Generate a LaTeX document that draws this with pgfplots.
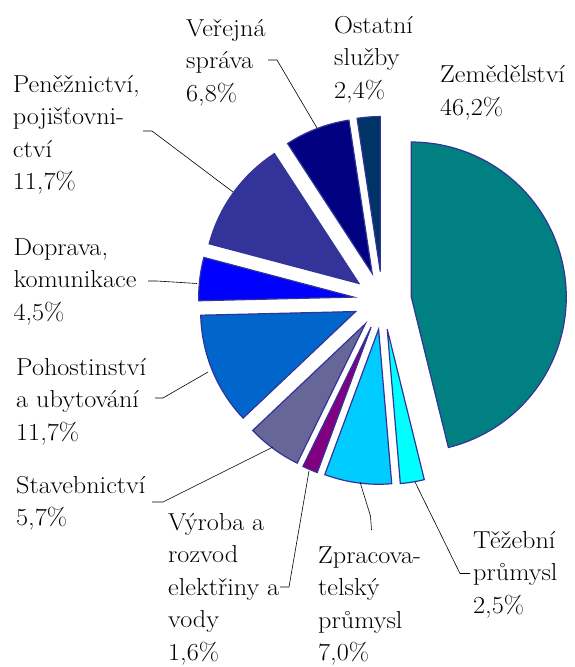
\documentclass[border=0pt]{standalone}
\usepackage{graphicx}
\usepackage{pgfplots}
\pgfplotsset{compat=1.18}
\usepackage{pgfplotstable}

\definecolor{c0}{HTML}{008080}
\definecolor{c1}{HTML}{00FFFF}
\definecolor{c2}{HTML}{00CCFF}
\definecolor{c3}{HTML}{800080}
\definecolor{c4}{HTML}{666699}
\definecolor{c5}{HTML}{0066CC}
\definecolor{c6}{HTML}{0000FF}
\definecolor{c7}{HTML}{333399}
\definecolor{c8}{HTML}{000080}
\definecolor{c9}{HTML}{003366}
\definecolor{edge}{HTML}{333399}

% shares in per cent, clockwise from the top
\pgfplotstableread{
idx pct
0 46.2
1 2.5
2 7.0
3 1.6
4 5.7
5 11.7
6 4.5
7 11.7
8 6.8
9 2.4
}\piedata

\def\cx{382.5}\def\cy{300.5}\def\R{155}\def\D{29}

\xdef\total{0}
\foreach \i in {0,...,9}{%
  \pgfplotstablegetelem{\i}{pct}\of\piedata
  \pgfmathsetmacro\tmp{\total+\pgfplotsretval}%
  \xdef\total{\tmp}%
}
\xdef\cum{0}
\foreach \i in {0,...,9}{%
  \pgfplotstablegetelem{\i}{pct}\of\piedata
  \pgfmathsetmacro\sa{90-(\cum/\total)*360}%
  \pgfmathsetmacro\nc{\cum+\pgfplotsretval}%
  \pgfmathsetmacro\ea{90-(\nc/\total)*360}%
  \pgfmathsetmacro\ma{(\sa+\ea)/2}%
  \pgfmathsetmacro\px{\cx+\D*cos(\ma)}%
  \pgfmathsetmacro\py{\cy-\D*sin(\ma)}%
  \expandafter\xdef\csname sA\i\endcsname{\sa}%
  \expandafter\xdef\csname eA\i\endcsname{\ea}%
  \expandafter\xdef\csname pX\i\endcsname{\px}%
  \expandafter\xdef\csname pY\i\endcsname{\py}%
  \xdef\cum{\nc}%
}

\newcommand\lab[3]{\node[anchor=base west, inner sep=0pt, font=\rmfamily\fontsize{24.5}{30}\selectfont] at (axis cs:#1,#2) {\scalebox{1.07}[1]{#3}};}

\begin{document}
\begin{tikzpicture}
\begin{axis}[
  scale only axis, width=574pt, height=667pt,
  xmin=0, xmax=574, ymin=0, ymax=667, y dir=reverse,
  enlargelimits=false, hide axis, clip=false]
\pgfplotsinvokeforeach{0,...,9}{
  \addplot[draw=edge, line width=1.2pt, fill=c#1, line join=miter,
    domain=\csname eA#1\endcsname:\csname sA#1\endcsname, samples=80]
    ({\csname pX#1\endcsname + \R*cos(x)}, {\csname pY#1\endcsname - \R*sin(x)})
    -- (axis cs:\csname pX#1\endcsname,\csname pY#1\endcsname) -- cycle;
}
% leader lines
\addplot[black, line width=0.6pt] coordinates {(268,60) (277,60) (317,128)};
\addplot[black, line width=0.6pt] coordinates {(143,131) (152,131) (233,192)};
\addplot[black, line width=0.6pt] coordinates {(148,281) (157,281) (197,283.5)};
\addplot[black, line width=0.6pt] coordinates {(155,398) (163,398) (208,372)};
\addplot[black, line width=0.6pt] coordinates {(152,502) (163,502) (273,447)};
\addplot[black, line width=0.6pt] coordinates {(280,587) (289,587) (309,471)};
\addplot[black, line width=0.6pt] coordinates {(371.5,530) (370.5,516) (360,482)};
\addplot[black, line width=0.6pt] coordinates {(470,573.5) (460,573.5) (415,482)};
% labels
\lab{186}{36}{Veřejná}
\lab{186}{68.5}{správa}
\lab{186}{101}{6,8\%}
\lab{334}{33}{Ostatní}
\lab{334}{65.5}{služby}
\lab{334}{98}{2,4\%}
\lab{440}{82.7}{Zemědělství}
\lab{440}{115}{46,2\%}
\lab{12.7}{92.3}{Peněžnictví,}
\lab{12.7}{124.8}{pojišťovni-}
\lab{12.7}{157.3}{ctví}
\lab{12.7}{189.8}{11,7\%}
\lab{13.3}{255}{Doprava,}
\lab{13.3}{287.5}{komunikace}
\lab{13.3}{320}{4,5\%}
\lab{16}{375}{Pohostinství}
\lab{16}{407.5}{a ubytování}
\lab{16}{440}{11,7\%}
\lab{16}{493}{Stavebnictví}
\lab{16}{525.5}{5,7\%}
\lab{168}{530}{Výroba a}
\lab{168}{562.5}{rozvod}
\lab{168}{595}{elektřiny a}
\lab{168}{627.5}{vody}
\lab{168}{660}{1,6\%}
\lab{318}{563}{Zpracova-}
\lab{318}{595.5}{telský}
\lab{318}{628}{průmysl}
\lab{318}{660.5}{7,0\%}
\lab{473}{548}{Těžební}
\lab{473}{580.5}{průmysl}
\lab{473}{613}{2,5\%}
\end{axis}
\pgfresetboundingbox
\path (0,0) rectangle (574pt,667pt);
\end{tikzpicture}
\end{document}
